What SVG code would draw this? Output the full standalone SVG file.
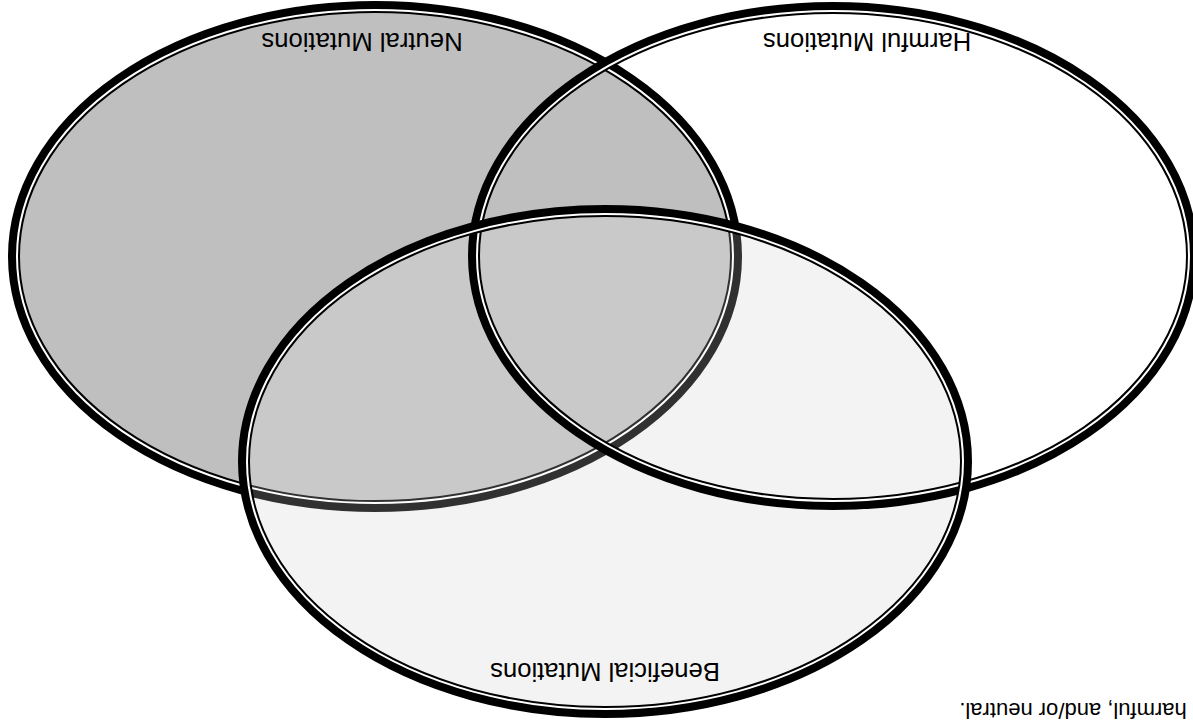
<svg xmlns="http://www.w3.org/2000/svg" width="1193" height="723" viewBox="0 0 1193 723">
  <style>
    .band { fill: none; stroke: #000; stroke-width: 12; }
    .gap { fill: none; stroke: #fff; stroke-width: 2; }
    text { font-family: 'Liberation Sans', Arimo, Arial, Helvetica, sans-serif; fill: #000; text-anchor: middle; }
    .label { font-size: 25.7px; }
    .note { font-size: 22px; }
  </style>
  <rect width="1193" height="723" fill="#fff"/>

  <!-- fills -->
  <g id="fills">
    <ellipse cx="605" cy="461.5" rx="361" ry="250.5" fill="#f3f3f3"/>
    <ellipse cx="375" cy="256.5" rx="361" ry="249.5" fill="#bfbfbf"/>
  </g>

  <!-- Neutral set outline -->
  <g id="neutral">
    <ellipse class="band" cx="375" cy="256.5" rx="361" ry="249.5"/>
    <ellipse class="gap" cx="375" cy="256.5" rx="358" ry="246.5"/>
  </g>

  <!-- translucent veil of the Beneficial set over the Neutral set -->
  <ellipse cx="605" cy="461.5" rx="355" ry="244.5" fill="#f3f3f3" fill-opacity="0.2"/>

  <!-- Harmful set outline -->
  <g id="harmful">
    <ellipse class="band" cx="833" cy="256" rx="359" ry="248"/>
    <ellipse class="gap" cx="833" cy="256" rx="356" ry="245"/>
  </g>

  <!-- Beneficial set outline -->
  <g id="beneficial">
    <ellipse class="band" cx="605" cy="461.5" rx="361" ry="250.5"/>
    <ellipse class="gap" cx="605" cy="461.5" rx="358" ry="247.5"/>
  </g>

  <!-- labels (printed upside down) -->
  <g id="labels" font-family="Liberation Sans, Arial, sans-serif">
    <text class="label" x="362" y="33" transform="rotate(180 362 33)">Neutral Mutations</text>
    <text class="label" x="867" y="33" transform="rotate(180 867 33)">Harmful Mutations</text>
    <text class="label" x="605" y="663" transform="rotate(180 605 663)">Beneficial Mutations</text>
    <text class="note" x="1073" y="702.5" transform="rotate(180 1073 702.5)">harmful, and/or neutral.</text>
  </g>
</svg>
